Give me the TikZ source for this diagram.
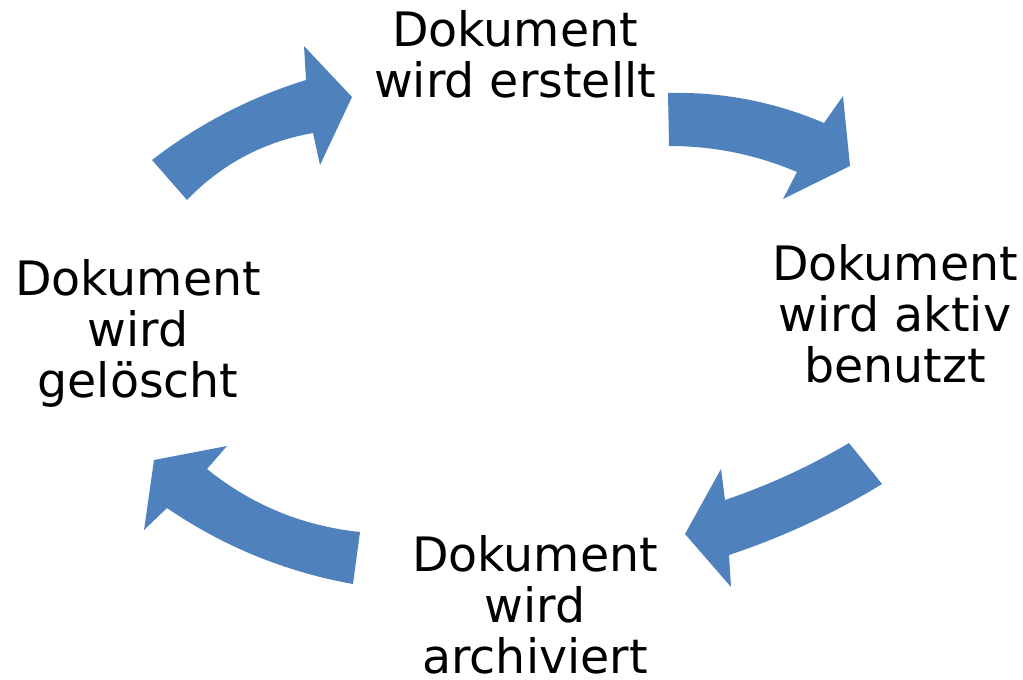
\documentclass[tikz,border=0pt]{standalone}
\usepackage{fontspec}
\setmainfont{DejaVu Sans}
\usetikzlibrary{calc}

\definecolor{pfeilblau}{RGB}{79,129,189}

\begin{document}
\begin{tikzpicture}[x=0.02cm,y=-0.02cm]
            % 画布大小
            \useasboundingbox (0,0) rectangle (1023,679);

            \tikzset{
                zustand/.style={anchor=base,align=center,inner sep=0pt,
                    font=\fontsize{27}{28.8}\selectfont},
                pfeil/.style={fill=pfeilblau,draw=none}
            }

            % 四个状态 (base = 最后一行的基线)
            \node[zustand] (erstellt) at (515,97) {Dokument\\wird erstellt};
            \node[zustand] (benutzt) at (895,382) {Dokument\\wird aktiv\\benutzt};
            \node[zustand] (archiviert) at (535,673) {Dokument\\wird\\archiviert};
            \node[zustand] (geloescht) at (138,397) {Dokument\\wird\\gelöscht};

            % 左上箭头: 删除 -> 创建
            \coordinate (P1a) at (152,160);
            \coordinate (P1b) at (306,80);
            \coordinate (P1c) at (304,46);
            \coordinate (P1d) at (352,97);
            \coordinate (P1e) at (320,165);
            \coordinate (P1f) at (313,133);
            \coordinate (P1g) at (187,200);
            \coordinate (Q1o) at (222,106); % 外侧控制点
            \coordinate (Q1i) at (239,146); % 内侧控制点
            \fill[pfeil] (P1a) .. controls ($(P1a)!2/3!(Q1o)$) and ($(P1b)!2/3!(Q1o)$) .. (P1b)
                -- (P1c) -- (P1d) -- (P1e) -- (P1f)
                .. controls ($(P1f)!2/3!(Q1i)$) and ($(P1g)!2/3!(Q1i)$) .. (P1g) -- cycle;

            % 右上箭头: 创建 -> 使用
            \coordinate (P2a) at (668,93);
            \coordinate (P2b) at (824,123);
            \coordinate (P2c) at (843,96);
            \coordinate (P2d) at (850,166);
            \coordinate (P2e) at (783,199);
            \coordinate (P2f) at (797,172);
            \coordinate (P2g) at (669,146);
            \coordinate (Q2o) at (749,91);
            \coordinate (Q2i) at (736,146);
            \fill[pfeil] (P2a) .. controls ($(P2a)!2/3!(Q2o)$) and ($(P2b)!2/3!(Q2o)$) .. (P2b)
                -- (P2c) -- (P2d) -- (P2e) -- (P2f)
                .. controls ($(P2f)!2/3!(Q2i)$) and ($(P2g)!2/3!(Q2i)$) .. (P2g) -- cycle;

            % 右下箭头: 使用 -> 归档
            \coordinate (P3a) at (849,443);
            \coordinate (P3b) at (882,484);
            \coordinate (P3c) at (729,555);
            \coordinate (P3d) at (731,587);
            \coordinate (P3e) at (685,534);
            \coordinate (P3f) at (721,469);
            \coordinate (P3g) at (725,500);
            \coordinate (Q3o) at (810,528);
            \coordinate (Q3i) at (790,478);
            \fill[pfeil] (P3a) -- (P3b)
                .. controls ($(P3b)!2/3!(Q3o)$) and ($(P3c)!2/3!(Q3o)$) .. (P3c)
                -- (P3d) -- (P3e) -- (P3f) -- (P3g)
                .. controls ($(P3g)!2/3!(Q3i)$) and ($(P3a)!2/3!(Q3i)$) .. (P3a) -- cycle;

            % 左下箭头: 归档 -> 删除
            \coordinate (P4a) at (360,532);
            \coordinate (P4b) at (353,584);
            \coordinate (P4c) at (167,508);
            \coordinate (P4d) at (144,530);
            \coordinate (P4e) at (154,460);
            \coordinate (P4f) at (227,446);
            \coordinate (P4g) at (207,469);
            \coordinate (Q4o) at (252,566);
            \coordinate (Q4i) at (274,523);
            \fill[pfeil] (P4a) -- (P4b)
                .. controls ($(P4b)!2/3!(Q4o)$) and ($(P4c)!2/3!(Q4o)$) .. (P4c)
                -- (P4d) -- (P4e) -- (P4f) -- (P4g)
                .. controls ($(P4g)!2/3!(Q4i)$) and ($(P4a)!2/3!(Q4i)$) .. (P4a) -- cycle;

        \end{tikzpicture}
\end{document}
